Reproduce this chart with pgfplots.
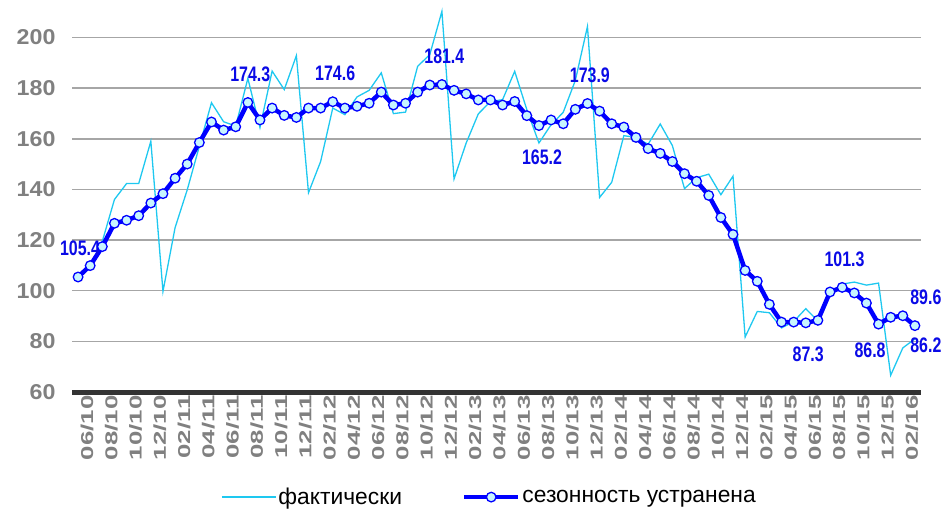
\documentclass[border=0pt]{standalone}
\usepackage{pgfplots}
\pgfplotsset{compat=1.18}
\usepackage{fontspec}
\setmainfont{Liberation Sans}
\newfontfamily\ytfont[FakeStretch=1.08]{Liberation Sans}
\newfontfamily\xtfont[FakeStretch=1.5]{Liberation Sans}
\newfontfamily\dlfont[FakeStretch=0.76]{Liberation Sans}
\definecolor{actc}{RGB}{30,200,240}
\definecolor{sac}{RGB}{0,0,255}
\definecolor{mfill}{RGB}{200,245,255}
\definecolor{tickgray}{RGB}{128,128,128}
\definecolor{gridgray}{RGB}{166,166,166}
\definecolor{lblblue}{RGB}{10,10,230}
\pgfplotsset{
  actleg/.style={legend image code/.code={\draw[##1] (0pt,0pt) -- (54pt,0pt);}},
  saleg/.style={legend image code/.code={\draw[##1, mark repeat=2, mark phase=2] plot coordinates {(0pt,0pt) (27pt,0pt) (54pt,0pt)};}},
}
\begin{document}
\begin{tikzpicture}
\path[use as bounding box] (0,0) rectangle (946pt,512pt);
\begin{axis}[
  at={(72pt,120pt)}, anchor=south west,
  scale only axis, width=849pt, height=385pt,
  xmin=-0.5, xmax=69.5, ymin=60, ymax=212,
  clip=false,
  axis line style={draw=none},
  major tick length=0pt,
  ytick={60,80,...,200},
  ymajorgrids, major grid style={draw=gridgray, line width=1.6pt},
  extra y ticks={60}, extra y tick labels={},
  extra y tick style={grid=major, major grid style={draw=black!80, line width=5pt}},
  /pgf/number format/assume math mode=true,
  yticklabel style={font=\ytfont\bfseries\fontsize{21.5}{21.5}\selectfont, text=tickgray, xshift=-13pt},
  xtick={0,2,...,68},
  xticklabels={06/10,08/10,10/10,12/10,02/11,04/11,06/11,08/11,10/11,12/11,02/12,04/12,06/12,08/12,10/12,12/12,02/13,04/13,06/13,08/13,10/13,12/13,02/14,04/14,06/14,08/14,10/14,12/14,02/15,04/15,06/15,08/15,10/15,12/15,02/16},
  xticklabel style={font=\xtfont\bfseries\fontsize{17.2}{17.2}\selectfont, text=tickgray, rotate=90, anchor=east, yshift=-9pt},
  legend style={draw=none, fill=none, font=\fontsize{22.8}{22.8}\selectfont, at={(0.4917,-0.273)}, anchor=center, legend columns=2, /tikz/every even column/.append style={column sep=58pt}},
]
\addplot[color=actc, line width=1.3pt, mark=none, actleg]
coordinates {
(0,105.4)(1,109.9)(2,119.5)(3,136.0)(4,142.3)(5,142.3)(6,159.0)(7,99.7)(8,124.9)(9,139.8)
(10,157.0)(11,174.2)(12,166.7)(13,165.0)(14,183.8)(15,164.4)(16,186.7)(17,179.4)(18,192.8)(19,138.7)
(20,151.0)(21,172.1)(22,169.5)(23,176.5)(24,179.1)(25,186.0)(26,169.9)(27,170.5)(28,188.6)(29,193.2)
(30,210.3)(31,144.1)(32,158.3)(33,169.8)(34,174.7)(35,175.4)(36,186.6)(37,171.5)(38,158.3)(39,165.5)
(40,170.4)(41,183.0)(42,204.3)(43,136.8)(44,142.8)(45,161.2)(46,160.5)(47,157.8)(48,165.8)(49,157.3)
(50,140.3)(51,144.6)(52,146.0)(53,137.9)(54,145.2)(55,81.7)(56,91.8)(57,91.3)(58,85.3)(59,87.8)
(60,92.9)(61,88.0)(62,99.3)(63,102.6)(64,103.4)(65,102.2)(66,103.0)(67,66.6)(68,77.4)(69,81.0)
};
\addlegendentry{фактически}
\addplot[color=sac, line width=4.5pt, mark=*, mark size=4.8pt,
  mark options={fill=mfill, draw=sac, line width=1.3pt}, saleg]
coordinates {
(0,105.4)(1,109.9)(2,117.4)(3,126.6)(4,127.8)(5,129.6)(6,134.6)(7,138.3)(8,144.4)(9,150.0)
(10,158.5)(11,166.6)(12,163.4)(13,164.7)(14,174.3)(15,167.4)(16,172.1)(17,169.2)(18,168.4)(19,172.1)
(20,172.1)(21,174.6)(22,172.1)(23,172.8)(24,174.0)(25,178.4)(26,173.3)(27,174.0)(28,178.4)(29,181.2)
(30,181.4)(31,179.1)(32,177.7)(33,175.3)(34,175.3)(35,173.3)(36,174.7)(37,169.1)(38,165.2)(39,167.4)
(40,165.9)(41,171.6)(42,173.9)(43,170.9)(44,165.9)(45,164.6)(46,160.5)(47,156.1)(48,154.2)(49,151.0)
(50,146.2)(51,143.2)(52,137.6)(53,128.9)(54,122.2)(55,108.0)(56,103.7)(57,94.6)(58,87.6)(59,87.6)
(60,87.3)(61,88.3)(62,99.5)(63,101.3)(64,99.1)(65,95.1)(66,86.8)(67,89.5)(68,90.1)(69,86.2)
};
\addlegendentry{сезонность устранена}
\tikzset{dl/.style={font=\dlfont\bfseries\fontsize{21}{21}\selectfont, text=lblblue, inner sep=0pt}}
\node[dl] at (axis cs:0.16,116.6) {105.4};
\node[dl] at (axis cs:14.2,185.3) {174.3};
\node[dl] at (axis cs:21.2,185.7) {174.6};
\node[dl] at (axis cs:30.2,192.5) {181.4};
\node[dl] at (axis cs:38.25,152.7) {165.2};
\node[dl] at (axis cs:42.2,184.9) {173.9};
\node[dl] at (axis cs:60.2,74.7) {87.3};
\node[dl] at (axis cs:63.2,112.2) {101.3};
\node[dl] at (axis cs:65.3,76.3) {86.8};
\node[dl] at (axis cs:69.9,97.4) {89.6};
\node[dl] at (axis cs:69.9,78.3) {86.2};
\end{axis}
\end{tikzpicture}
\end{document}
